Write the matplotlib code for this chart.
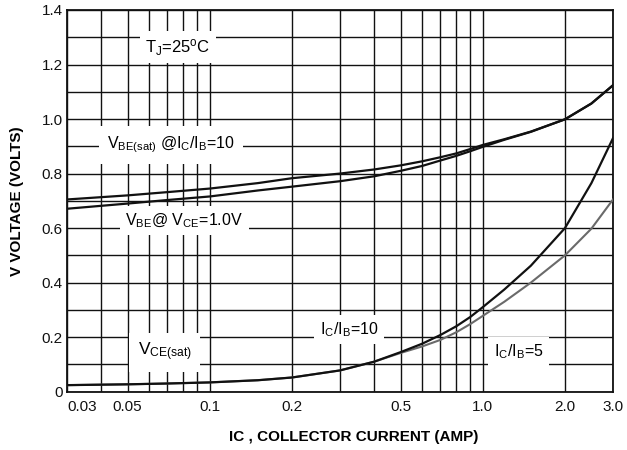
import matplotlib
matplotlib.use("Agg")
import matplotlib.pyplot as plt
from matplotlib.ticker import FixedLocator, NullFormatter

plt.rcParams['font.family'] = ['Liberation Sans', 'DejaVu Sans']
plt.rcParams['mathtext.fontset'] = 'custom'
plt.rcParams['mathtext.rm'] = 'Liberation Sans'
plt.rcParams['mathtext.it'] = 'Liberation Sans'
plt.rcParams['mathtext.bf'] = 'Liberation Sans:bold'

# ---- data ----
ic_vbe = [0.03, 0.05, 0.07, 0.1, 0.15, 0.2, 0.3, 0.4, 0.5, 0.6, 0.7, 0.8, 0.9, 1.0, 1.2, 1.5, 2.0, 2.5, 3.0]
vbe_sat = [0.705, 0.72, 0.732, 0.745, 0.765, 0.783, 0.80, 0.815, 0.83, 0.845, 0.86, 0.874, 0.89, 0.905, 0.926, 0.954, 0.999, 1.057, 1.124]
vbe_on = [0.671, 0.69, 0.703, 0.716, 0.738, 0.752, 0.772, 0.79, 0.81, 0.828, 0.848, 0.865, 0.882, 0.898, 0.924, 0.953, 0.999, 1.057, 1.124]

ic_vce = [0.03, 0.05, 0.07, 0.1, 0.15, 0.2, 0.3, 0.4, 0.5, 0.6, 0.7, 0.8, 0.9, 1.0, 1.2, 1.5, 2.0, 2.5, 3.0]
vce_sat_10 = [0.024, 0.027, 0.030, 0.034, 0.042, 0.052, 0.078, 0.11, 0.145, 0.176, 0.208, 0.24, 0.274, 0.31, 0.375, 0.462, 0.60, 0.765, 0.93]
vce_sat_5 = [0.024, 0.027, 0.030, 0.034, 0.042, 0.052, 0.078, 0.11, 0.142, 0.166, 0.19, 0.218, 0.248, 0.278, 0.33, 0.40, 0.50, 0.598, 0.705]

x_major = [0.03, 0.05, 0.1, 0.2, 0.5, 1.0, 2.0, 3.0]
x_major_labels = ['0.03', '0.05', '0.1', '0.2', '0.5', '1.0', '2.0', '3.0']
x_minor = [0.04, 0.06, 0.07, 0.08, 0.09, 0.3, 0.4, 0.6, 0.7, 0.8, 0.9]
y_major = [0, 0.2, 0.4, 0.6, 0.8, 1.0, 1.2, 1.4]
y_major_labels = ['0', '0.2', '0.4', '0.6', '0.8', '1.0', '1.2', '1.4']
y_minor = [0.1, 0.3, 0.5, 0.7, 0.9, 1.1, 1.3]

fig = plt.figure(figsize=(6.27, 4.5), dpi=100)
ax = fig.add_axes([0.1069, 0.1296, 0.8708, 0.8482])
ax.set_xscale('log')
ax.set_xlim(0.03, 3.0)
ax.set_ylim(0, 1.4)

ax.xaxis.set_major_locator(FixedLocator(x_major))
ax.xaxis.set_minor_locator(FixedLocator(x_minor))
ax.xaxis.set_minor_formatter(NullFormatter())
ax.set_xticklabels(x_major_labels)
ax.yaxis.set_major_locator(FixedLocator(y_major))
ax.yaxis.set_minor_locator(FixedLocator(y_minor))
ax.set_yticklabels(y_major_labels)
ax.tick_params(which='both', length=0, labelsize=11, colors='#111111')
ax.tick_params(axis='x', pad=6)
ax.tick_params(axis='y', pad=3)
ax.xaxis.get_majorticklabels()[0].set_horizontalalignment('left')

ax.grid(True, which='both', color='#111111', linewidth=1.0)
ax.set_axisbelow(True)
for s in ax.spines.values():
    s.set_linewidth(1.3)
    s.set_color('#111111')

ax.plot(ic_vbe, vbe_sat, color='#111111', lw=1.6, zorder=3)
ax.plot(ic_vbe, vbe_on, color='#111111', lw=1.6, zorder=3)
ax.plot(ic_vce, vce_sat_5, color='#6a6a6a', lw=1.5, zorder=3)
ax.plot(ic_vce, vce_sat_10, color='#111111', lw=1.6, zorder=4)

box = dict(facecolor='white', edgecolor='none', pad=4)
ax.text(0.058, 1.263, r'T$_\mathregular{J}$=25$^\mathregular{o}$C', fontsize=12, ha='left', va='center', bbox=box, zorder=5)
ax.text(0.042, 0.905, r'V$_\mathregular{BE(sat)}$ @I$_\mathregular{C}$/I$_\mathregular{B}$=10', fontsize=11.5, ha='left', va='center',
        bbox=dict(facecolor='white', edgecolor='none', pad=6), zorder=5)
ax.text(0.049, 0.628, r'V$_\mathregular{BE}$@ V$_\mathregular{CE}$=1.0V', fontsize=11.5, ha='left', va='center', bbox=box, zorder=5)
ax.text(0.0545, 0.145, r'V$_\mathregular{CE(sat)}$', fontsize=12.5, ha='left', va='center',
        bbox=dict(facecolor='white', edgecolor='none', pad=6), zorder=5)
ax.text(0.253, 0.228, r'I$_\mathregular{C}$/I$_\mathregular{B}$=10', fontsize=11.5, ha='left', va='center', bbox=box, zorder=5)
ax.text(1.1, 0.145, r'I$_\mathregular{C}$/I$_\mathregular{B}$=5', fontsize=11.5, ha='left', va='center', bbox=box, zorder=5)

fig.text(354 / 627, 1 - 437 / 450, 'IC , COLLECTOR CURRENT (AMP)', fontsize=11, fontweight='bold', ha='center', va='center')
fig.text(17 / 627, 1 - 201 / 450, 'V VOLTAGE (VOLTS)', fontsize=11, fontweight='bold', ha='center', va='center', rotation=90)

fig.savefig('out.png', dpi=100, facecolor='white')
